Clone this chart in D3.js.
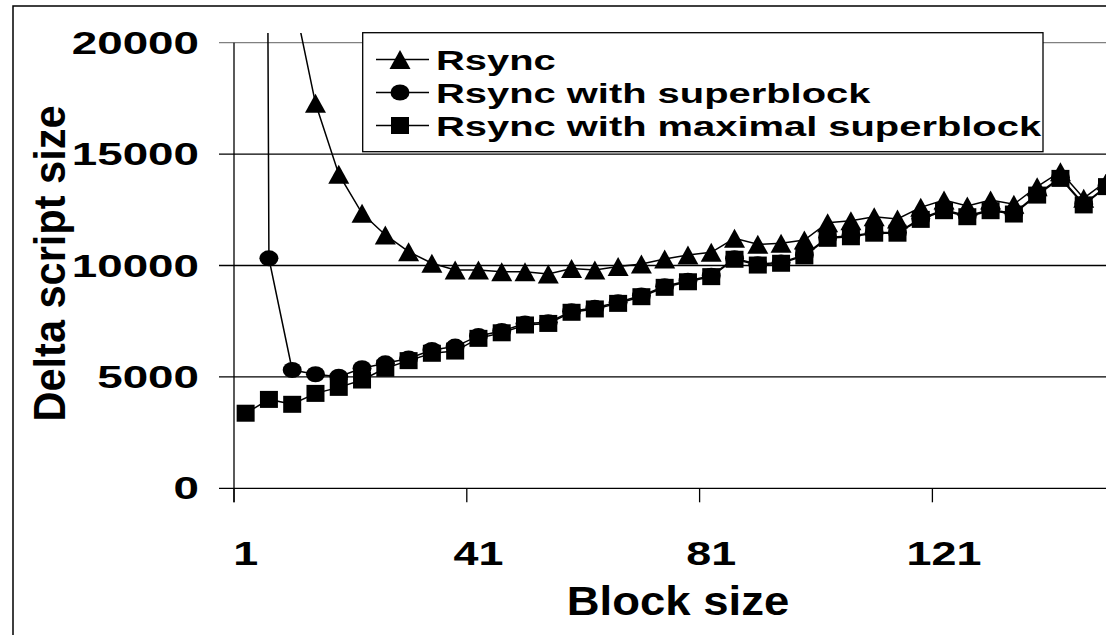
<!DOCTYPE html>
<html><head><meta charset="utf-8">
<script src="https://cdn.jsdelivr.net/npm/d3@7"></script>
<style>html,body{margin:0;padding:0;background:#fff;overflow:hidden}</style>
</head><body>
<svg id="chart" width="1106" height="635"></svg>
<script>
// ---------------- data ----------------
const blockSizes = [1,5,9,13,17,21,25,29,33,37,41,45,49,53,57,61,65,69,73,77,81,85,89,93,97,101,105,109,113,117,121,125,129,133,137,141,145,149];
const rsync = [120000,40000,22300,17280,14100,12340,11370,10620,10100,9800,9800,9720,9720,9620,9870,9800,9950,10070,10290,10470,10590,11220,10950,11000,11140,11920,12010,12190,12090,12610,12940,12670,12940,12750,13540,14210,13020,13800];
const rsyncSuper = [250000,10320,5310,5120,5010,5390,5610,5830,6210,6360,6840,7060,7400,7450,7950,8100,8350,8650,9070,9320,9540,10320,10060,10140,10470,11260,11330,11480,11480,12110,12500,12230,12500,12350,13200,13950,12760,13570];
const rsyncMaxSuper = [3370,3990,3770,4260,4530,4860,5390,5730,6060,6160,6730,6980,7330,7400,7900,8050,8300,8600,9020,9270,9500,10280,10020,10100,10430,11220,11290,11450,11450,12070,12460,12190,12460,12310,13160,13910,12720,13540];
const seriesNames = ["Rsync","Rsync with superblock","Rsync with maximal superblock"];
const markerKinds = ["triangle","circle","square"];
const yTickValues = [0,5000,10000,15000,20000];
const xTickLabels = [1,41,81,121];
const xTitle = "Block size";
const yTitle = "Delta script size";

// ---------------- layout ----------------
const W = 1106, H = 635;
const FONT = "'Liberation Sans', Arial, Helvetica, sans-serif";
const plotLeft = 234, plotTop = 42.7, plotBottom = 488.3, bandW = 23.28, plotRight = 1140;
const svg = d3.select("#chart");

const x = d3.scaleBand().domain(blockSizes)
  .range([plotLeft, plotLeft + bandW * blockSizes.length]).padding(0);
const y = d3.scaleLinear().domain([0, 20000]).range([plotBottom, plotTop]);
const cx = d => x(d) + x.bandwidth() / 2;

svg.append("rect").attr("width", W).attr("height", H).attr("fill", "#fff");
// chart-area border (clipped at right/bottom like the reference)
svg.append("rect").attr("x", 13).attr("y", 6).attr("width", W + 40).attr("height", H + 40)
  .attr("fill", "none").attr("stroke", "#000").attr("stroke-width", 1.5);

// gridlines + y ticks
svg.append("g").selectAll("line").data(yTickValues).join("line")
  .attr("x1", 219).attr("x2", plotRight)
  .attr("y1", d => y(d)).attr("y2", d => y(d))
  .attr("stroke", d => d === 20000 ? "#808080" : "#000")
  .attr("stroke-width", 1.3);

// y axis line
svg.append("line").attr("x1", plotLeft).attr("x2", plotLeft)
  .attr("y1", y(20000)).attr("y2", plotBottom + 14)
  .attr("stroke", "#000").attr("stroke-width", 1.3);

// x ticks at category boundaries every 10 categories
const tickCats = blockSizes.filter((d, i) => i % 10 === 0);
svg.append("g").selectAll("line").data(tickCats).join("line")
  .attr("x1", d => x(d)).attr("x2", d => x(d))
  .attr("y1", plotBottom).attr("y2", plotBottom + 14)
  .attr("stroke", "#000").attr("stroke-width", 1.3);

function stretchedText(g, str, tx, ty, size, sx, anchor) {
  return g.append("text")
    .attr("transform", `translate(${tx},${ty}) scale(${sx},1)`)
    .attr("text-anchor", anchor)
    .attr("font-family", FONT).attr("font-weight", "bold")
    .attr("font-size", size).attr("fill", "#000")
    .text(str);
}

// y tick labels
yTickValues.forEach(v => stretchedText(svg, v, 199, y(v) + 11, 30.5, 1.5, "end"));
// x tick labels
xTickLabels.forEach(v => stretchedText(svg, v, cx(v), 565, 34, 1.32, "middle"));
// axis titles
stretchedText(svg, xTitle, 678, 615, 41, 1.11, "middle");
svg.append("text")
  .attr("transform", "translate(65,263.5) rotate(-90)")
  .attr("text-anchor", "middle")
  .attr("font-family", FONT).attr("font-weight", "bold")
  .attr("font-size", 45).attr("textLength", 316).attr("lengthAdjust", "spacingAndGlyphs")
  .text(yTitle);

// ---------------- series ----------------
svg.append("clipPath").attr("id", "plotClip").append("rect")
  .attr("x", plotLeft).attr("y", 33).attr("width", W).attr("height", H);

const plot = svg.append("g").attr("clip-path", "url(#plotClip)");
const allSeries = [rsync, rsyncSuper, rsyncMaxSuper];

function drawMarker(g, kind) {
  if (kind === "triangle") g.append("path").attr("d", "M0,-9.5L10.5,9.5L-10.5,9.5Z").attr("fill", "#000");
  else if (kind === "circle") g.append("ellipse").attr("rx", 9.5).attr("ry", 8).attr("fill", "#000");
  else g.append("rect").attr("x", -9).attr("y", -8.5).attr("width", 18).attr("height", 17).attr("fill", "#000");
}

const line = d3.line().x(d => cx(d.b)).y(d => y(d.v));
allSeries.forEach((vals, si) => {
  const pts = blockSizes.map((b, i) => ({ b, v: vals[i] }));
  plot.append("path").datum(pts).attr("d", line)
    .attr("fill", "none").attr("stroke", "#000").attr("stroke-width", 1.5);
  pts.forEach(p => {
    const g = plot.append("g").attr("transform", `translate(${cx(p.b)},${y(p.v)})`);
    drawMarker(g, markerKinds[si]);
  });
});

// ---------------- legend ----------------
const lg = svg.append("g");
lg.append("rect").attr("x", 362.7).attr("y", 32.7).attr("width", 680.3).attr("height", 119)
  .attr("fill", "#fff").attr("stroke", "#000").attr("stroke-width", 1.3);
const rowY = [59.5, 92.5, 125.5];
seriesNames.forEach((name, i) => {
  lg.append("line").attr("x1", 376).attr("x2", 429).attr("y1", rowY[i]).attr("y2", rowY[i])
    .attr("stroke", "#000").attr("stroke-width", 1.5);
  const g = lg.append("g").attr("transform", `translate(400,${rowY[i]})`);
  drawMarker(g, markerKinds[i]);
  stretchedText(lg, name, 436, rowY[i] + 10.2, 28.5, 1.4, "start");
});
</script>
</body></html>
